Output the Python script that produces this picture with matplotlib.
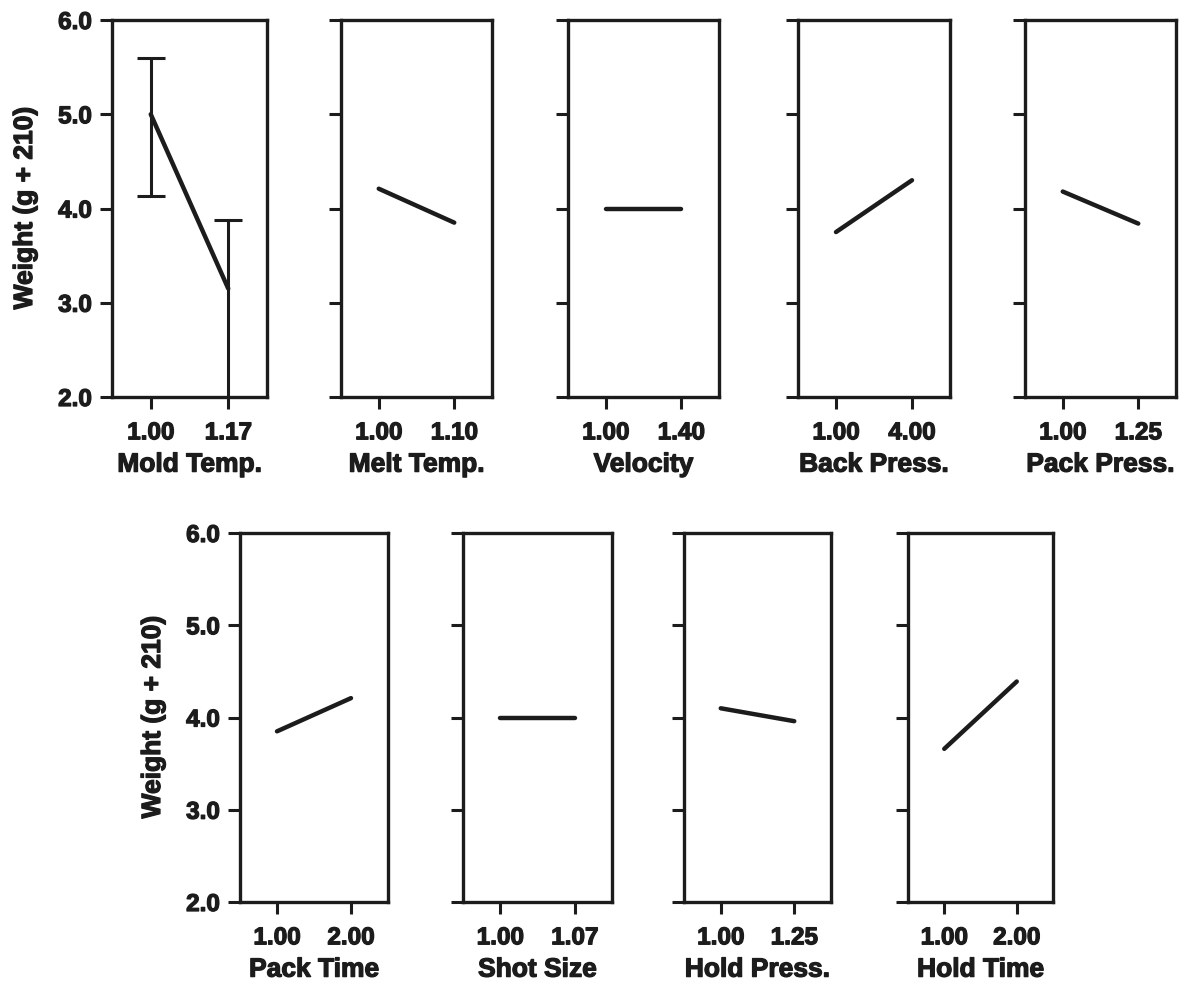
import matplotlib
matplotlib.use("Agg")
import matplotlib.pyplot as plt
import matplotlib.patheffects as pe

plt.rcParams["font.family"] = ["Liberation Sans", "DejaVu Sans"]
plt.rcParams["font.weight"] = "bold"

# Main-effect factors: name, two level labels, mean weight at each level
factors = ["Mold Temp.", "Melt Temp.", "Velocity", "Back Press.", "Pack Press.",
           "Pack Time", "Shot Size", "Hold Press.", "Hold Time"]
level_labels = [["1.00", "1.17"], ["1.00", "1.10"], ["1.00", "1.40"],
                ["1.00", "4.00"], ["1.00", "1.25"], ["1.00", "2.00"],
                ["1.00", "1.07"], ["1.00", "1.25"], ["1.00", "2.00"]]
mold_temp = [5.00, 3.15]
melt_temp = [4.21, 3.85]
velocity = [4.00, 4.00]
back_press = [3.75, 4.30]
pack_press = [4.18, 3.84]
pack_time = [3.85, 4.21]
shot_size = [4.00, 4.00]
hold_press = [4.10, 3.96]
hold_time = [3.66, 4.39]
means = [mold_temp, melt_temp, velocity, back_press, pack_press,
         pack_time, shot_size, hold_press, hold_time]

# Interval shown for the mold temperature effect (lower, upper)
mold_temp_low = [4.13, 1.85]
mold_temp_high = [5.60, 3.88]

y_ticks = [2.0, 3.0, 4.0, 5.0, 6.0]
y_label = "Weight (g + 210)"

W, H = 1194, 983
fig = plt.figure(figsize=(W / 100, H / 100), dpi=100)

# panel boxes in pixels: (left, right, top, bottom)
top_boxes = [(112, 267), (341, 492), (568, 719), (798, 950), (1025, 1176)]
bot_boxes = [(240, 388), (463, 612), (684, 831), (908, 1053)]
boxes = [(l, r, 20, 397) for l, r in top_boxes] + [(l, r, 533, 902) for l, r in bot_boxes]

ink = "#1c1c1c"
heavy = [pe.withStroke(linewidth=0.9, foreground=ink)]

for i, (l, r, t, b) in enumerate(boxes):
    ax = fig.add_axes([l / W, 1 - b / H, (r - l) / W, (b - t) / H])
    xs = [0, 1]
    ax.plot(xs, means[i], color=ink, lw=3.2, solid_capstyle="round")
    if i == 0:
        lo = [m - v for m, v in zip(mold_temp, mold_temp_low)]
        hi = [v - m for m, v in zip(mold_temp, mold_temp_high)]
        ax.errorbar(xs, mold_temp, yerr=[lo, hi], fmt="none", ecolor=ink,
                    elinewidth=2.2, capsize=10, capthick=2.2)
    ax.set_xlim(-0.5, 1.5)
    ax.set_ylim(2.0, 6.0)
    ax.set_xticks(xs)
    ax.set_xticklabels(level_labels[i])
    ax.set_yticks(y_ticks)
    if i in (0, 5):
        ax.set_yticklabels([f"{v:.1f}" for v in y_ticks])
    else:
        ax.set_yticklabels([])
    ax.tick_params(axis="both", direction="out", length=8.5, width=2.2,
                   colors=ink, labelsize=17.5, pad=6)
    ax.tick_params(axis="x", pad=9)
    ax.set_xlabel(factors[i], fontsize=19, fontweight="bold", color=ink, labelpad=6,
                  path_effects=heavy)
    for s in ax.spines.values():
        s.set_linewidth(2.4)
        s.set_color(ink)
    for lab in ax.get_xticklabels() + ax.get_yticklabels():
        lab.set_fontweight("bold")
        lab.set_path_effects(heavy)

for x, y in [(25, 208), (153, 717)]:
    fig.text(x / W, 1 - y / H, y_label, rotation=90, ha="center", va="center",
             fontsize=19, fontweight="bold", color=ink, path_effects=heavy)

fig.savefig("out.png", dpi=100, facecolor="white")
